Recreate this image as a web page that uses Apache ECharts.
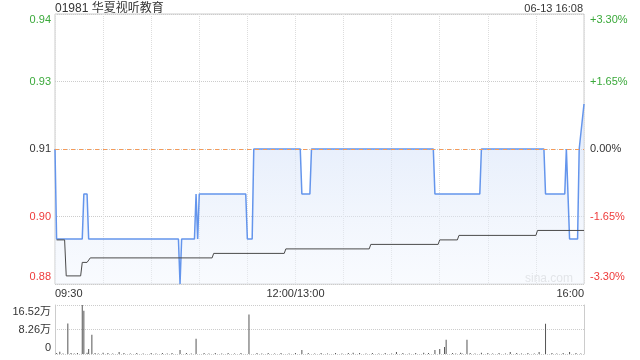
<!DOCTYPE html>
<html>
<head>
<meta charset="utf-8">
<script src="https://cdn.jsdelivr.net/npm/echarts@6/dist/echarts.min.js"></script>
<style>
html,body{margin:0;padding:0;background:#fff;}
#c{width:640px;height:360px;}
</style>
</head>
<body>
<div id="c"></div>
<script>
// ---- data ----
const titleText = '01981 华夏视听教育';
const stampText = '06-13 16:08';
const prevClose = 0.91;
const priceMin = 0.88;
const priceMax = 0.94;
const priceStep = 0.015;
const priceTickLabels = ['0.88', '0.90', '0.91', '0.93', '0.94'];        // bottom -> top
const pctTickLabels = ['-3.30%', '-1.65%', '0.00%', '+1.65%', '+3.30%']; // bottom -> top
const volMax = 16.52;
const volStep = 8.26;
const volTickLabels = ['0', '8.26万', '16.52万'];
const minuteMax = 330;
const minuteStep = 30;
const timeTickLabels = { 0: '09:30', 150: '12:00/13:00', 330: '16:00' };

// [minute index, price]
const pricePoints = [
  [0, 0.91], [1, 0.89], [17, 0.89], [18, 0.90], [20, 0.90], [21, 0.89],
  [77, 0.89], [78, 0.88], [79, 0.89], [87, 0.89], [88, 0.90], [89, 0.89],
  [90, 0.90], [119, 0.90], [120, 0.89], [123, 0.89], [124, 0.91], [153, 0.91],
  [154, 0.90], [159, 0.90], [160, 0.91], [236, 0.91], [237, 0.90], [265, 0.90],
  [266, 0.91], [305, 0.91], [306, 0.90], [318, 0.90], [319, 0.91], [321, 0.89],
  [326, 0.89], [327, 0.91], [328, 0.91], [330, 0.92]
];
// [minute index, average price]
const avgPoints = [
  [1, 0.8898], [6, 0.8898], [7, 0.8818], [16, 0.8818], [17, 0.8848], [20, 0.8848],
  [22, 0.8858], [98, 0.8858], [99, 0.8868], [143, 0.8868], [144, 0.8878],
  [196, 0.8878], [197, 0.8888], [239, 0.8888], [240, 0.8898], [251, 0.8898],
  [252, 0.8908], [300, 0.8908], [301, 0.8919], [330, 0.8919]
];
// [minute index, volume in 万]
const volumePoints = [
  [1, 0.3], [3, 0.8], [5, 0.2], [8, 10.3], [10, 0.3], [12, 0.2], [14, 0.3],
  [17, 16.52], [18, 14.6], [20, 0.4], [21, 1.7], [23, 6.5], [25, 0.3], [27, 0.2],
  [30, 0.45], [33, 0.3], [36, 0.2], [40, 0.7], [43, 0.3], [47, 0.2], [51, 0.3],
  [55, 0.2], [60, 0.3], [63, 0.2], [67, 0.3], [70, 0.2], [73, 0.3], [78, 1.36],
  [82, 0.3], [85, 0.2], [88, 5.1], [93, 0.3], [96, 0.2], [100, 0.3], [104, 0.2],
  [108, 0.3], [112, 0.2], [116, 0.3], [121, 13.3], [126, 0.3], [129, 0.2],
  [133, 0.3], [137, 0.2], [141, 0.3], [146, 0.2], [150, 0.3], [154, 1.36],
  [158, 0.3], [162, 0.2], [166, 0.3], [170, 0.2], [175, 0.3], [179, 0.2],
  [183, 0.3], [186, 0.4], [190, 0.3], [194, 0.2], [198, 0.3], [202, 0.2],
  [206, 0.3], [210, 0.2], [213, 0.7], [217, 0.3], [221, 0.2], [225, 0.3],
  [230, 0.4], [233, 0.3], [237, 1.36], [240, 1.7], [243, 2.4], [244, 4.8],
  [248, 0.3], [250, 0.2], [253, 0.45], [254, 0.2], [257, 4.8], [259, 0.3],
  [262, 0.2], [266, 0.4], [270, 0.3], [273, 0.2], [277, 0.3], [281, 0.2],
  [284, 0.7], [288, 0.3], [291, 0.2], [295, 0.3], [299, 0.2], [302, 0.7],
  [306, 10.2], [310, 0.3], [313, 0.2], [317, 0.3], [321, 0.7], [325, 0.3], [328, 0.2]
];

// ---- chart ----
const FONT = 'Arial, "Liberation Sans", "Noto Sans CJK SC", sans-serif';
const RED = '#ee3b3b', GREEN = '#3aa93a', DARK = '#333333';
const chart = echarts.init(document.getElementById('c'), null, { renderer: 'canvas' });

function priceIdx(v) { return Math.round((v - priceMin) / priceStep); }
function labelStyleName(i) {
  return ['rb', 'r', 'k', 'g', 'gt'][i];
}
const priceRich = {
  rb: { color: RED, fontSize: 11, fontFamily: FONT, padding: [0, 0, 14, 0] },
  r: { color: RED, fontSize: 11, fontFamily: FONT },
  k: { color: DARK, fontSize: 11, fontFamily: FONT },
  g: { color: GREEN, fontSize: 11, fontFamily: FONT },
  gt: { color: GREEN, fontSize: 11, fontFamily: FONT, padding: [12, 0, 0, 0] }
};
const volRich = {
  b: { color: DARK, fontSize: 11, fontFamily: FONT, padding: [0, 0, 12, 0] },
  m: { color: DARK, fontSize: 11, fontFamily: FONT },
  t: { color: DARK, fontSize: 11, fontFamily: FONT, padding: [14, 0, 0, 0] }
};

const option = {
  animation: false,
  backgroundColor: '#ffffff',
  textStyle: { fontFamily: FONT },
  title: [
    { text: titleText, left: 55, top: 3, padding: 0, textStyle: { fontSize: 12, fontWeight: 'normal', color: DARK, fontFamily: FONT } },
    { text: stampText, right: 57, top: 3, padding: 0, textStyle: { fontSize: 11, fontWeight: 'normal', color: DARK, fontFamily: FONT } }
  ],
  grid: [
    { left: 55, right: 56, top: 14, height: 270, show: true, borderColor: '#cccccc', borderWidth: 1 },
    { left: 55, right: 56, top: 305, height: 49 }
  ],
  xAxis: [
    {
      type: 'value', gridIndex: 0, min: 0, max: minuteMax, interval: minuteStep,
      axisLine: { show: false }, axisTick: { show: false },
      splitLine: { show: true, lineStyle: { color: '#dddddd', type: 'dotted', width: 1 } },
      axisLabel: {
        show: true, margin: 4, fontSize: 11, color: DARK, fontFamily: FONT,
        alignMinLabel: 'left', alignMaxLabel: 'right',
        formatter: v => timeTickLabels[Math.round(v)] || ''
      }
    },
    {
      type: 'value', gridIndex: 1, min: 0, max: minuteMax, interval: minuteStep,
      axisLine: { show: false }, axisTick: { show: false },
      splitLine: { show: false }, axisLabel: { show: false }
    }
  ],
  yAxis: [
    {
      type: 'value', gridIndex: 0, position: 'left', min: priceMin, max: priceMax, interval: priceStep,
      axisLine: { show: false }, axisTick: { show: false },
      splitLine: { show: true, lineStyle: { color: '#cccccc', type: 'dotted', width: 1 } },
      axisLabel: {
        margin: 4, fontSize: 11,
        formatter: v => { const i = priceIdx(v); return '{' + labelStyleName(i) + '|' + priceTickLabels[i] + '}'; },
        rich: priceRich
      }
    },
    {
      type: 'value', gridIndex: 0, position: 'right', min: priceMin, max: priceMax, interval: priceStep,
      axisLine: { show: false }, axisTick: { show: false }, splitLine: { show: false },
      axisLabel: {
        margin: 6, fontSize: 11,
        formatter: v => { const i = priceIdx(v); return '{' + labelStyleName(i) + '|' + pctTickLabels[i] + '}'; },
        rich: priceRich
      }
    },
    {
      type: 'value', gridIndex: 1, position: 'left', min: 0, max: volMax, interval: volStep,
      axisLine: { show: true, lineStyle: { color: '#cccccc', width: 1 } }, axisTick: { show: false },
      splitLine: { show: true, lineStyle: { color: '#cccccc', type: 'dotted', width: 1 } },
      axisLabel: {
        margin: 4, fontSize: 11,
        formatter: v => { const i = Math.round(v / volStep); return '{' + ['b', 'm', 't'][i] + '|' + volTickLabels[i] + '}'; },
        rich: volRich
      }
    },
    {
      type: 'value', gridIndex: 1, position: 'right', min: 0, max: volMax, interval: volStep,
      axisLine: { show: true, lineStyle: { color: '#cccccc', width: 1 } }, axisTick: { show: false },
      splitLine: { show: false }, axisLabel: { show: false }
    }
  ],
  graphic: [
    { type: 'text', right: 67, top: 273, style: { text: 'sina.com', fill: '#d9d9d9', font: '12px ' + FONT } }
  ],
  series: [
    {
      type: 'line', xAxisIndex: 0, yAxisIndex: 0, data: pricePoints,
      symbol: 'none', smooth: false,
      lineStyle: { color: '#6495ec', width: 1.5 },
      areaStyle: {
        origin: 'start',
        color: new echarts.graphic.LinearGradient(0, 0, 0, 1, [
          { offset: 0, color: 'rgba(206,221,248,0.85)' },
          { offset: 1, color: 'rgba(240,245,253,0.6)' }
        ])
      },
      markLine: {
        silent: true, symbol: 'none', label: { show: false },
        lineStyle: { color: '#f59a58', type: [4, 4], width: 1, opacity: 1 },
        data: [{ yAxis: prevClose }]
      },
      z: 3
    },
    {
      type: 'line', xAxisIndex: 0, yAxisIndex: 0, data: avgPoints,
      symbol: 'none', lineStyle: { color: '#4a4a4a', width: 1 }, z: 4
    },
    {
      type: 'bar', xAxisIndex: 1, yAxisIndex: 2, data: volumePoints,
      barWidth: 1, itemStyle: { color: '#555555' }
    }
  ]
};
chart.setOption(option);
</script>
</body>
</html>
